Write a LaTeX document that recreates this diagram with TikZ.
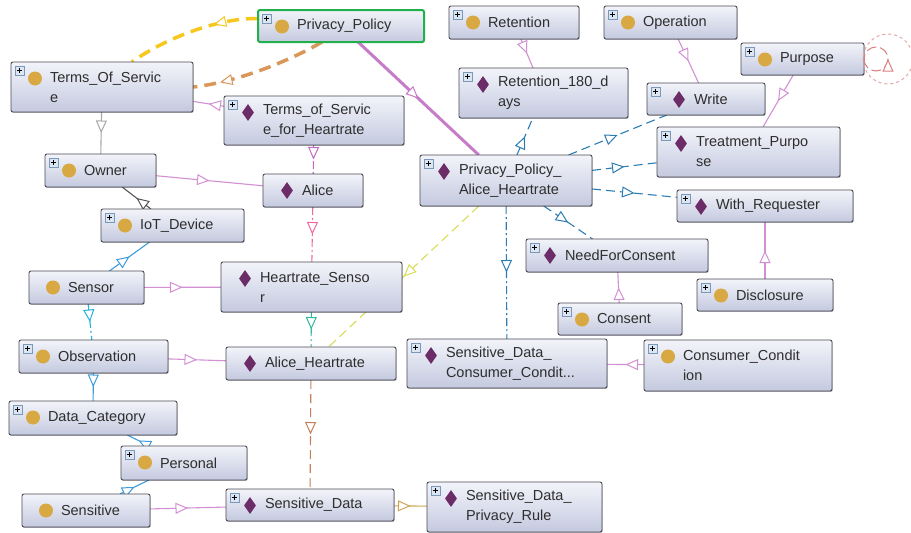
\documentclass[tikz,border=0pt]{standalone}
\usepackage{fontspec}
\setmainfont{Liberation Sans}
\usetikzlibrary{positioning, shapes.geometric, arrows.meta, decorations.markings, backgrounds, shadows}

\definecolor{boxtop}{HTML}{F3F4FA}
\definecolor{boxbot}{HTML}{C4C9DF}
\definecolor{boxline}{HTML}{4B4B55}
\definecolor{ppgreen}{HTML}{21B04B}
\definecolor{gold}{HTML}{D8A843}
\definecolor{plum}{HTML}{6C2C68}
\definecolor{txt}{HTML}{2E2E2E}
\definecolor{plusfill}{HTML}{DCE6F2}
\definecolor{plusline}{HTML}{7A98B8}
\definecolor{orchid}{HTML}{D38FD3}
\definecolor{orchidd}{HTML}{C26AC4}
\definecolor{ppline}{HTML}{C77CC8}
\definecolor{hotpink}{HTML}{F2689E}
\definecolor{cteal}{HTML}{33B89E}
\definecolor{cbrown}{HTML}{C5805A}
\definecolor{clime}{HTML}{D9DC55}
\definecolor{cblue}{HTML}{2B7DB3}
\definecolor{ccyan}{HTML}{22B2DA}
\definecolor{csky}{HTML}{3D9BDB}
\definecolor{cgray}{HTML}{A8A8A8}
\definecolor{cdark}{HTML}{555555}
\definecolor{ctan}{HTML}{CFA557}
\definecolor{cyellow}{HTML}{F6C71C}
\definecolor{corange}{HTML}{D9975A}
\definecolor{cred}{HTML}{DB8080}

\tikzset{
  box/.style={rectangle, rounded corners=2pt, draw=boxline, line width=.9pt, top color=boxtop, bottom color=boxbot, anchor=north west, inner sep=0pt, outer sep=0pt,
    drop shadow={shadow xshift=.7pt, shadow yshift=-.9pt, opacity=.3, fill=black}},
  lbl/.style={font=\fontsize{14.5}{20}\selectfont, text=txt, inner sep=0pt, outer sep=0pt, align=left},
  cls/.style={circle, fill=gold, minimum size=14pt, inner sep=0pt},
  ind/.style={diamond, fill=plum, minimum width=12pt, minimum height=17pt, inner sep=0pt},
  plusbox/.style={fill=plusfill, draw=plusline, line width=.6pt},
  midtip/.style={postaction={decorate, decoration={markings, mark=at position #1 with {\arrow{Triangle[fill=white, length=12.5pt, width=11pt, line width=1pt]}}}}},
  midtip/.default=0.5,
  link/.style={line width=1.1pt, midtip},
  dd/.style={dash pattern=on 8pt off 3pt on 2pt off 3pt},
  ds/.style={dash pattern=on 9pt off 5pt},
}

% name, x, y, width, height, icon, text
\newcommand\obox[8][39pt]{%
  \node[box, minimum width=#5pt, minimum height=#6pt] (#2) at (#3,#4) {};
  \node[#7] at ([xshift=#1-15pt, yshift=-16.5pt]#2.north west) {};
  \node[lbl, right=#1 of #2.west] (#2-t) {#8};
}

\begin{document}
\begin{tikzpicture}[x=1pt, y=-1pt]
  \useasboundingbox (0,0) rectangle (911,533);

  % classes and individuals
  \obox{PP}{258}{10}{166}{32}{cls}{Privacy\_Policy}
  \draw[ppgreen, line width=2pt, rounded corners=2pt] (PP.north west) rectangle (PP.south east);
  \obox{TOS}{11}{62}{182}{50}{cls}{Terms\_Of\_Servic\\e}
  \obox{TfH}{224}{96}{180}{49}{ind}{Terms\_of\_Servic\\e\_for\_Heartrate}
  \obox{Ret}{449}{6}{130}{33}{cls}{Retention}
  \obox{Op}{604}{6}{133}{33}{cls}{Operation}
  \obox{Purp}{741}{43}{123}{32}{cls}{Purpose}
  \obox{R180}{459}{68}{169}{50}{ind}{Retention\_180\_d\\ays}
  \obox[47pt]{Write}{647}{83}{118}{32}{ind}{Write}
  \obox{Treat}{657}{127}{183}{50}{ind}{Treatment\_Purpo\\se}
  \obox{PPAH}{420}{155}{172}{51}{ind}{Privacy\_Policy\_\\Alice\_Heartrate}
  \obox{WR}{677}{190}{176}{32}{ind}{With\_Requester}
  \obox{Owner}{45}{154}{111}{33}{cls}{Owner}
  \obox{Alice}{263}{174}{100}{33}{ind}{Alice}
  \obox{IoT}{101}{209}{143}{33}{cls}{IoT\_Device}
  \obox{Sensor}{29}{271}{115}{33}{cls}{Sensor}
  \obox{HS}{221}{262}{181}{50}{ind}{Heartrate\_Senso\\r}
  \obox{NFC}{526}{239}{182}{33}{ind}{NeedForConsent}
  \obox{Disc}{697}{279}{136}{32}{cls}{Disclosure}
  \obox{Consent}{558}{303}{124}{32}{cls}{Consent}
  \obox{Obs}{19}{340}{149}{33}{cls}{Observation}
  \obox{AH}{226}{347}{170}{33}{ind}{Alice\_Heartrate}
  \obox{SDCC}{407}{339}{200}{49}{ind}{Sensitive\_Data\_\\Consumer\_Condit...}
  \obox{CC}{644}{340}{188}{51}{cls}{Consumer\_Condit\\ion}
  \obox{DC}{9}{401}{168}{34}{cls}{Data\_Category}
  \obox{Pers}{121}{446}{126}{34}{cls}{Personal}
  \obox{Sens}{22}{494}{128}{33}{cls}{Sensitive}
  \obox{SD}{226}{489}{168}{32}{ind}{Sensitive\_Data}
  \obox{SDPR}{427}{482}{175}{50}{ind}{Sensitive\_Data\_\\Privacy\_Rule}

  % expand icons
  \foreach \n in {PP,TOS,TfH,Ret,Op,Purp,R180,Write,Treat,PPAH,WR,Owner,IoT,NFC,Disc,Consent,Obs,SDCC,CC,DC,Pers,SD,SDPR}{
    \draw[plusbox] ([xshift=4pt, yshift=-4pt]\n.north west) rectangle ++(9pt,-9pt);
    \draw[black, line width=.8pt] ([xshift=5.8pt, yshift=-8.5pt]\n.north west) -- ++(5.4pt,0pt)
      ([xshift=8.5pt, yshift=-5.8pt]\n.north west) -- ++(0pt,-5.4pt);
  }

  \begin{scope}[on background layer]
    \draw[cyellow, line width=3.5pt, dash pattern=on 12pt off 7pt, midtip=0.33] (PP.175) .. controls (225,17) and (170,35) .. (TOS.40);
    \draw[corange, line width=3.5pt, dash pattern=on 12pt off 7pt, midtip=0.8] (PP.220) .. controls (295,58) and (240,82) .. (TOS.east);
    \draw[ppline, line width=3pt, midtip] (PP) -- (PPAH);

    \draw[link, orchid] (TfH) -- (TOS);
    \draw[link, orchid] (Ret) -- (R180);
    \draw[link, orchid] (Op) -- (Write);
    \draw[link, orchid] (Purp) -- (Treat);
    \draw[link, orchid] (Owner) -- (Alice);
    \draw[link, orchid] (CC) -- (SDCC);
    \draw[link, orchid] (Consent) -- (NFC);
    \draw[link, orchid] (Disc) -- (WR);
    \draw[link, orchid] (Sensor) -- (HS);
    \draw[link, orchid] (Obs) -- (AH);
    \draw[link, orchid] (Sens) -- (SD);
    \draw[link, orchidd, dd] (TfH) -- (Alice);
    \draw[link, hotpink, dd] (Alice) -- (HS);
    \draw[link, cteal, dd] (HS) -- (AH);
    \draw[link, cbrown, ds] (AH) -- (SD);
    \draw[link, ctan] (SD) -- (SDPR);
    \draw[link, clime, ds] (PPAH) -- (AH);

    \foreach \t in {R180,Write,Treat,WR,NFC}
      \draw[link, cblue, ds] (PPAH) -- (\t);
    \draw[link, cblue, dd] (PPAH) -- (SDCC);

    \draw[link, cgray] (TOS) -- (Owner);
    \draw[link, cdark] (IoT) -- (Owner);
    \draw[link, csky] (Sensor) -- (IoT);
    \draw[link, ccyan, dd] (Sensor) -- (Obs);
    \draw[link, csky] (Obs) -- (DC);
    \draw[link, csky] (Pers) -- (DC);
    \draw[link, csky] (Sens) -- (Pers);
  \end{scope}

  % self loop on Purpose
  \draw[cred!70, line width=1pt, dashed] ([xshift=24pt]Purp.east) circle[radius=25pt];
  \draw[cred, line width=1pt, dash pattern=on 10pt off 4pt, midtip] (Purp.east) arc[start angle=180, end angle=540, radius=12pt];
\end{tikzpicture}
\end{document}
